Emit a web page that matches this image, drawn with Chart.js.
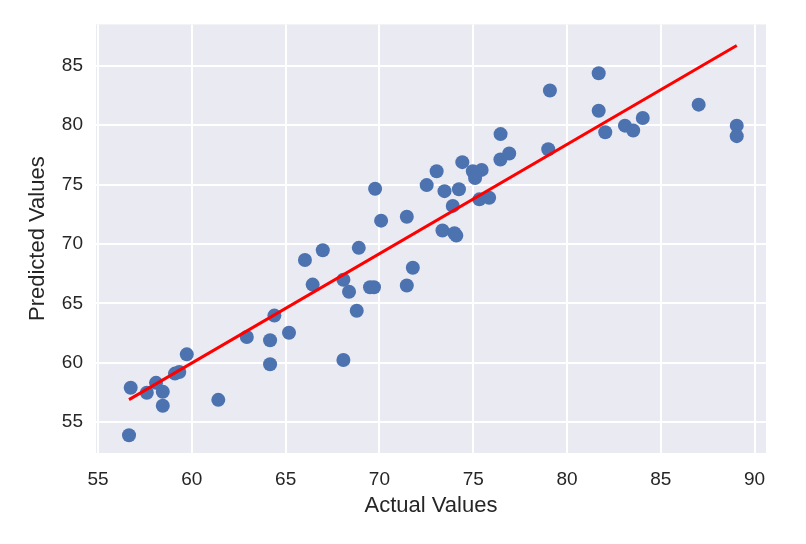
<!DOCTYPE html>
<html>
<head>
<meta charset="utf-8">
<script src="https://cdn.jsdelivr.net/npm/chart.js@4.4.1/dist/chart.umd.min.js"></script>
<style>
  html, body { margin: 0; padding: 0; background: #ffffff; }
  #wrap { width: 806px; height: 544px; }
</style>
</head>
<body>
<div id="wrap"><canvas id="myChart" width="806" height="544"></canvas></div>
<script>
// Actual vs predicted (test set)
const actualValues = [
  56.65, 56.74, 57.6, 58.09, 58.45, 58.45, 59.1, 59.33, 59.73, 61.41,
  62.93, 64.17, 64.17, 64.4, 65.18, 66.03, 66.44, 66.98, 68.08, 68.08,
  68.38, 68.79, 68.9, 69.5, 69.71, 69.77, 70.09, 71.46, 71.46, 71.78,
  72.52, 73.05, 73.36, 73.47, 73.91, 74.0, 74.1, 74.24, 74.42, 74.98,
  75.45, 75.1, 75.33, 75.85, 76.45, 76.92, 76.46, 79.0, 79.09, 81.69,
  81.69, 82.04, 83.09, 83.53, 84.04, 87.02, 89.05, 89.05
];
const predictedValues = [
  53.9, 57.9, 57.48, 58.31, 57.56, 56.38, 59.09, 59.22, 60.71, 56.88,
  62.17, 61.9, 59.88, 63.97, 62.53, 68.65, 66.58, 69.47, 66.99, 60.24,
  65.98, 64.38, 69.67, 66.36, 66.36, 74.64, 71.96, 72.29, 66.5, 67.99,
  74.95, 76.12, 71.13, 74.44, 73.2, 70.9, 70.7, 74.6, 76.88, 76.12,
  76.23, 75.55, 73.75, 73.89, 77.1, 77.61, 79.24, 77.97, 82.91, 84.36,
  81.2, 79.4, 79.95, 79.54, 80.59, 81.72, 79.95, 79.07
];

// fitted line ends
const fitX = [56.65, 89.05];
const fitY = [56.9, 86.7];

const xTicks = [55, 60, 65, 70, 75, 80, 85, 90];
const yTicks = [55, 60, 65, 70, 75, 80, 85];

const toPoints = (xs, ys) => xs.map((x, i) => ({ x: x, y: ys[i] }));

const textColor = '#262626';
const fontFamily = '"Liberation Sans", Arial, sans-serif';

// grey plot background like seaborn darkgrid
const plotBackground = {
  id: 'plotBackground',
  beforeDraw(chart) {
    const { ctx, chartArea } = chart;
    ctx.save();
    ctx.fillStyle = '#EAEAF2';
    ctx.fillRect(chartArea.left, chartArea.top,
      chartArea.right - chartArea.left, chartArea.bottom - chartArea.top);
    ctx.restore();
  }
};

const ctx = document.getElementById('myChart').getContext('2d');

new Chart(ctx, {
  type: 'scatter',
  data: {
    datasets: [
      {
        type: 'line',
        label: 'Fit',
        data: toPoints(fitX, fitY),
        borderColor: '#FF0000',
        borderWidth: 3,
        pointRadius: 0,
        fill: false,
        order: 0
      },
      {
        label: 'Test',
        data: toPoints(actualValues, predictedValues),
        backgroundColor: '#4C72B0',
        borderWidth: 0,
        pointRadius: 7,
        pointHoverRadius: 7,
        order: 1
      }
    ]
  },
  options: {
    responsive: false,
    animation: false,
    devicePixelRatio: 1,
    layout: { padding: { top: 17, right: 40, left: 0, bottom: 0 } },
    plugins: {
      legend: { display: false },
      tooltip: { enabled: false }
    },
    scales: {
      x: {
        type: 'linear',
        min: 54.89,
        max: 90.61,
        afterBuildTicks: (scale) => { scale.ticks = xTicks.map(v => ({ value: v })); },
        afterFit: (scale) => { scale.height = 91; },
        grid: { color: '#ffffff', lineWidth: 2, drawTicks: false },
        border: { display: false },
        ticks: {
          padding: 15,
          color: textColor,
          font: { family: fontFamily, size: 19 },
          maxRotation: 0
        },
        title: {
          display: true,
          text: 'Actual Values',
          color: textColor,
          font: { family: fontFamily, size: 22 },
          padding: { top: 0, bottom: 25 }
        }
      },
      y: {
        type: 'linear',
        min: 52.41,
        max: 88.47,
        afterBuildTicks: (scale) => { scale.ticks = yTicks.map(v => ({ value: v })); },
        afterFit: (scale) => { scale.width = 96; },
        grid: { color: '#ffffff', lineWidth: 2, drawTicks: false },
        border: { display: false },
        ticks: {
          padding: 13,
          color: textColor,
          font: { family: fontFamily, size: 19 }
        },
        title: {
          display: true,
          text: 'Predicted Values',
          color: textColor,
          font: { family: fontFamily, size: 22 },
          padding: { top: 25, bottom: 0 }
        }
      }
    }
  },
  plugins: [plotBackground]
});
</script>
</body>
</html>
